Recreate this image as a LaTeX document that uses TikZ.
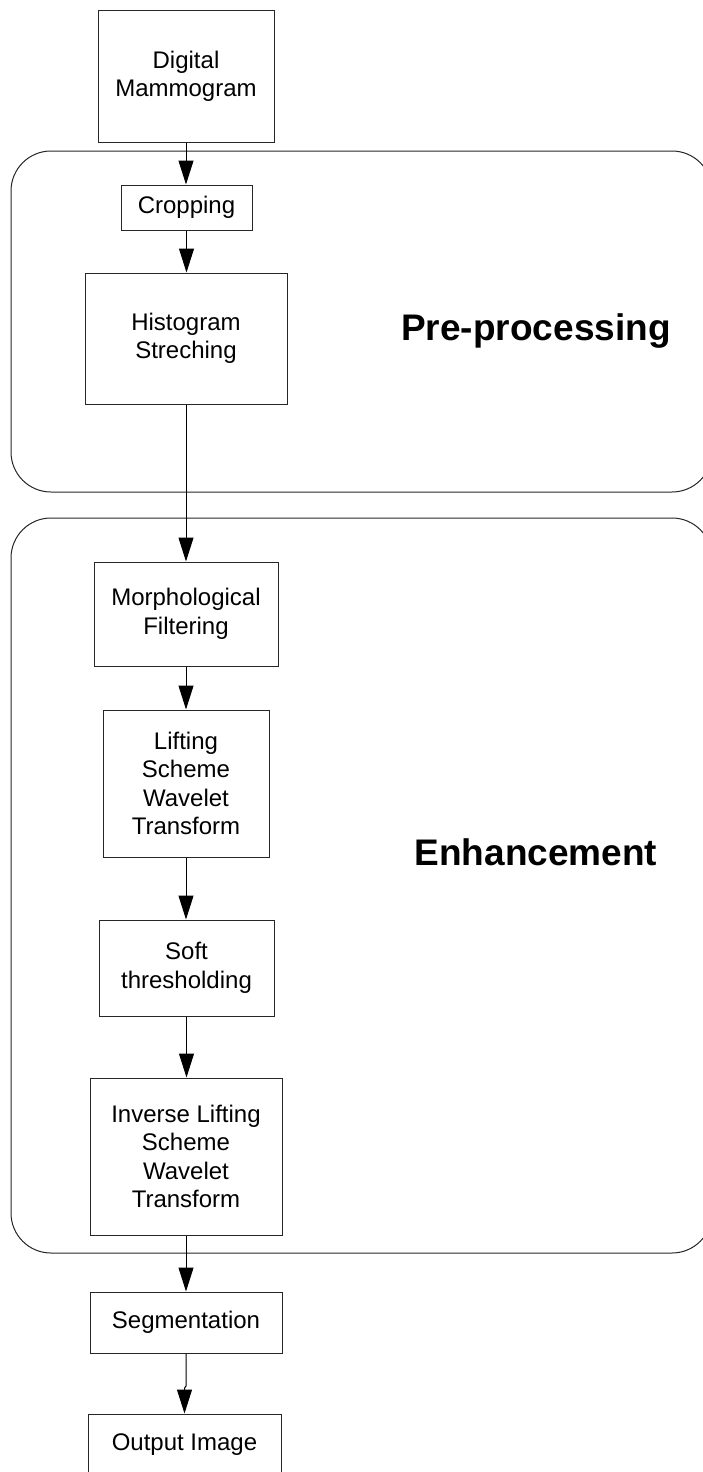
\documentclass[tikz,border=0pt]{standalone}
\usepackage{fontspec}
\setmainfont{Liberation Sans}
\usetikzlibrary{arrows.meta}
\begin{document}
\begin{tikzpicture}[x=1pt,y=-1pt,
  stepbox/.style={draw=black!85,line width=1pt,inner sep=0pt,align=center,
    font=\fontsize{24}{28.5}\selectfont},
  group/.style={draw=black!85,line width=1pt,rounded corners=40pt},
  grouplabel/.style={font=\fontsize{37}{40}\selectfont\bfseries,anchor=base},
  flow/.style={draw=black,line width=1pt,-{Triangle[length=24pt,width=15pt]}}]
\useasboundingbox (0,0) rectangle (703,1472);
% group frames
\draw[group] (11,151) rectangle (712,492);
\draw[group] (11,518) rectangle (712,1253);
\node[grouplabel] (lpre) at (536,340) {Pre-processing};
\node[grouplabel] (lenh) at (536,865) {Enhancement};
% steps
\node[stepbox,minimum width=176pt,minimum height=131pt] (dm) at (186,76.5) {Digital\\Mammogram};
\node[stepbox,minimum width=131pt,minimum height=45pt] (crop) at (186.5,207.5) {Cropping};
\node[stepbox,minimum width=202pt,minimum height=131pt] (hist) at (186,338.5) {Histogram\\Streching};
\node[stepbox,minimum width=184pt,minimum height=104pt] (morph) at (186,614) {Morphological\\Filtering};
\node[stepbox,minimum width=166pt,minimum height=147pt] (lift) at (186,783.5) {Lifting\\Scheme\\Wavelet\\Transform};
\node[stepbox,minimum width=175pt,minimum height=96pt] (soft) at (186.5,968) {Soft\\thresholding};
\node[stepbox,minimum width=192pt,minimum height=157pt] (inv) at (186,1156.5) {Inverse Lifting\\Scheme\\Wavelet\\Transform};
\node[stepbox,minimum width=192pt,minimum height=61pt] (seg) at (186,1322.5) {Segmentation};
\node[stepbox,minimum width=193pt,minimum height=62pt] (out) at (184.5,1445) {Output Image};
% connectors
\draw[flow] (dm.south) -- (dm.south |- crop.north);
\draw[flow] (crop.south) -- (crop.south |- hist.north);
\draw[flow] (hist.south) -- (hist.south |- morph.north);
\draw[flow] (morph.south) -- (morph.south |- lift.north);
\draw[flow] (lift.south) -- (lift.south |- soft.north);
\draw[flow] (soft.south) -- (soft.south |- inv.north);
\draw[flow] (inv.south) -- (inv.south |- seg.north);
\coordinate (jog) at (186,1386);
\draw[flow] (seg.south) -- (jog) -- ([yshift=-2pt]jog -| out.north) -- (out.north);
\end{tikzpicture}
\end{document}
